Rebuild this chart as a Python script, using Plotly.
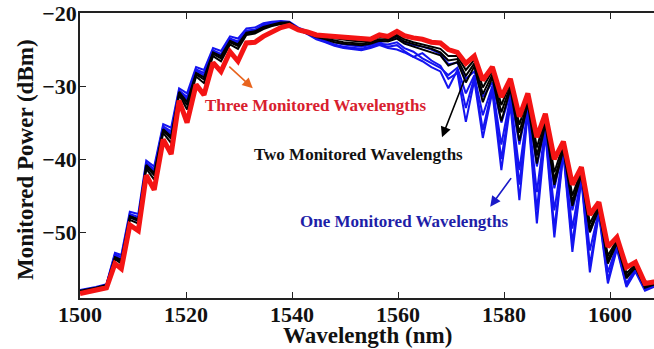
import plotly.graph_objects as go

# Wavelength sampling grid (nm), shared by every spectrum
wavelength = [1500.0, 1503.0, 1505.0, 1506.6, 1507.8, 1509.4, 1511.0, 1512.5, 1514.0, 1515.7,
              1517.2, 1518.7, 1520.2, 1521.9, 1523.4, 1525.1, 1526.6, 1528.3, 1529.8, 1531.4,
              1533.0, 1534.6, 1536.2, 1537.9, 1539.5, 1541.2, 1542.9, 1544.6, 1546.3, 1548.0,
              1549.7, 1551.4, 1553.1, 1554.8, 1556.5, 1558.1, 1559.8, 1561.2, 1562.9, 1564.6,
              1566.3, 1568.0, 1569.5, 1571.2, 1572.8, 1574.4, 1576.0, 1577.8, 1579.5, 1581.2,
              1582.9, 1584.5, 1586.2, 1587.8, 1589.5, 1591.2, 1592.9, 1594.6, 1596.2, 1597.9,
              1599.6, 1601.3, 1603.1, 1604.8, 1606.6, 1608.2, 1610.0]

# One monitored wavelength (blue traces), dBm
one_a = [-57.9, -57.5, -57.1, -52.8, -53.1, -47.2, -47.5, -40.2, -41.0, -35.2,
         -35.7, -30.3, -31.0, -27.4, -27.8, -24.8, -25.2, -23.2, -23.5, -22.1,
         -22.0, -21.4, -21.2, -21.1, -21.2, -22.0, -22.5, -23.2, -23.5, -24.0,
         -24.3, -24.5, -24.6, -24.4, -24.0, -23.8, -23.4, -24.0, -24.4, -24.6,
         -25.0, -25.6, -27.0, -26.8, -29.0, -28.0, -31.5, -29.5, -35.0, -31.0,
         -38.0, -32.5, -41.0, -35.0, -44.0, -38.5, -47.0, -42.0, -50.0, -46.8,
         -54.0, -51.5, -56.0, -54.8, -57.4, -57.2, -57.2]
one_b = [-58.0, -57.6, -57.2, -53.0, -53.4, -47.5, -47.9, -40.5, -41.4, -35.5,
         -36.2, -30.6, -31.5, -27.7, -28.2, -25.1, -25.6, -23.5, -23.9, -22.4,
         -22.3, -21.6, -21.4, -21.2, -21.3, -22.1, -22.7, -23.4, -23.8, -24.3,
         -24.6, -24.8, -24.9, -24.6, -24.2, -24.3, -24.0, -24.8, -25.3, -26.2,
         -26.8, -27.5, -28.5, -27.5, -31.0, -28.5, -34.0, -30.0, -38.0, -31.5,
         -41.5, -33.0, -44.5, -35.5, -47.0, -38.8, -49.5, -42.2, -52.5, -47.0,
         -55.5, -51.8, -57.0, -55.0, -57.6, -57.3, -57.3]
one_c = [-58.0, -57.6, -57.2, -53.2, -53.7, -47.7, -48.2, -40.7, -41.7, -35.7,
         -36.5, -30.8, -31.8, -27.9, -28.5, -25.3, -25.8, -23.6, -24.1, -22.5,
         -22.4, -21.7, -21.5, -21.3, -21.4, -22.2, -22.8, -23.5, -23.9, -24.4,
         -24.7, -24.9, -25.0, -24.7, -24.3, -24.6, -24.4, -25.2, -26.0, -26.6,
         -27.4, -28.0, -30.3, -27.8, -33.0, -28.8, -36.0, -30.3, -40.0, -32.0,
         -43.5, -33.3, -47.0, -36.0, -49.5, -39.0, -51.5, -42.5, -54.5, -47.2,
         -56.5, -52.0, -57.3, -55.2, -57.8, -57.4, -57.4]
one_d = [-58.1, -57.7, -57.3, -53.4, -53.9, -47.9, -48.5, -40.9, -42.0, -35.9,
         -36.8, -31.0, -32.1, -28.1, -28.8, -25.5, -26.0, -23.8, -24.3, -22.6,
         -22.5, -21.8, -21.6, -21.4, -21.5, -22.3, -22.9, -23.6, -24.0, -24.5,
         -24.8, -25.0, -25.1, -24.8, -24.4, -24.8, -25.0, -25.4, -26.0, -25.5,
         -26.5, -27.2, -29.0, -28.2, -34.9, -29.2, -37.1, -30.8, -41.5, -32.5,
         -45.6, -33.6, -48.8, -36.5, -50.7, -39.2, -52.7, -42.8, -55.5, -47.5,
         -57.0, -52.3, -57.5, -55.4, -58.0, -57.5, -57.5]

# Two monitored wavelengths (black traces), dBm
two_a = [-58.2, -57.8, -57.4, -53.7, -54.3, -48.3, -48.8, -41.3, -42.8, -36.4,
         -37.8, -31.2, -33.2, -28.7, -29.6, -25.9, -26.6, -24.3, -24.9, -23.0,
         -22.8, -22.2, -21.8, -21.5, -21.4, -22.2, -22.6, -23.1, -23.3, -23.5,
         -23.7, -23.8, -23.9, -23.8, -23.3, -23.5, -23.0, -23.6, -24.0, -24.3,
         -24.6, -24.9, -25.9, -25.9, -27.8, -26.4, -30.2, -27.9, -32.6, -29.5,
         -35.3, -31.5, -38.4, -34.3, -41.8, -38.0, -45.0, -41.5, -48.8, -46.3,
         -53.2, -51.1, -55.6, -54.4, -57.3, -57.0, -57.0]
two_b = [-58.1, -57.7, -57.3, -53.5, -54.0, -48.0, -48.4, -41.0, -42.2, -36.1,
         -37.2, -31.0, -32.6, -28.4, -29.1, -25.6, -26.2, -24.0, -24.5, -22.8,
         -22.6, -22.0, -21.7, -21.4, -21.3, -22.2, -22.7, -23.2, -23.5, -23.8,
         -24.0, -24.1, -24.2, -24.0, -23.6, -23.7, -23.2, -23.9, -24.3, -24.6,
         -24.9, -25.4, -26.5, -26.3, -28.6, -26.9, -31.1, -28.4, -33.6, -30.0,
         -36.4, -32.0, -39.5, -34.8, -42.8, -38.4, -45.8, -41.8, -49.5, -46.6,
         -53.8, -51.3, -56.0, -54.6, -57.5, -57.1, -57.1]
two_c = [-58.0, -57.6, -57.2, -53.4, -53.8, -47.8, -48.2, -40.8, -41.9, -35.9,
         -36.9, -30.8, -32.2, -28.2, -28.8, -25.4, -25.9, -23.8, -24.3, -22.7,
         -22.5, -21.9, -21.6, -21.3, -21.3, -22.3, -22.8, -23.3, -23.6, -24.0,
         -24.2, -24.3, -24.4, -24.2, -23.8, -23.9, -23.5, -24.2, -24.6, -25.0,
         -25.3, -25.8, -27.2, -26.7, -29.5, -27.3, -32.2, -28.8, -34.8, -30.4,
         -37.5, -32.4, -40.6, -35.2, -43.5, -38.7, -46.4, -42.1, -50.0, -46.8,
         -54.3, -51.5, -56.3, -54.8, -57.6, -57.2, -57.2]

# Three monitored wavelengths (red trace), dBm
three = [-58.4, -58.0, -57.6, -54.3, -55.0, -49.0, -49.8, -42.2, -44.2, -37.3,
         -39.3, -32.0, -35.0, -29.8, -31.2, -26.8, -28.0, -25.3, -26.6, -24.1,
         -24.0, -23.2, -22.6, -22.0, -21.7, -22.3, -22.6, -23.0, -23.1, -23.2,
         -23.3, -23.4, -23.6, -23.6, -23.0, -23.2, -22.5, -23.1, -23.4, -23.6,
         -24.0, -24.1, -25.0, -25.4, -26.9, -25.9, -29.2, -27.4, -31.5, -29.0,
         -34.2, -31.0, -37.0, -33.8, -40.0, -37.6, -43.5, -41.1, -47.6, -45.9,
         -52.0, -50.7, -54.8, -54.1, -57.0, -56.8, -56.8]

x_ticks = [1500, 1520, 1540, 1560, 1580, 1600]
y_ticks = [-50, -40, -30, -20]

SERIF = "Liberation Serif"

fig = go.Figure()

for ys in (one_a, one_b, one_c, one_d):
    fig.add_trace(go.Scatter(x=wavelength, y=ys, mode="lines",
                             line=dict(color="#1414f0", width=2)))
for ys in (two_a, two_b, two_c):
    fig.add_trace(go.Scatter(x=wavelength, y=ys, mode="lines",
                             line=dict(color="#000000", width=2)))
fig.add_trace(go.Scatter(x=wavelength, y=three, mode="lines",
                         line=dict(color="#f41414", width=5)))


def bold(s):
    return "<b>" + s + "</b>"


label_font = dict(family=SERIF, size=17)

annotations = [
    # arrows pointing at each family of curves
    dict(x=1532.6, y=-30.3, ax=-25, ay=-23, showarrow=True, arrowhead=2,
         arrowsize=1.3, arrowwidth=1.6, arrowcolor="#e8641e", text=""),
    dict(x=1568.3, y=-37.0, ax=23, ay=-59, showarrow=True, arrowhead=2,
         arrowsize=1.3, arrowwidth=1.6, arrowcolor="#000000", text=""),
    dict(x=1577.4, y=-46.5, ax=22, ay=-30, showarrow=True, arrowhead=2,
         arrowsize=1.3, arrowwidth=1.6, arrowcolor="#1a1ac8", text=""),
    # curve labels
    dict(x=1544.4, y=-32.6, text=bold("Three Monitored Wavelengths"), showarrow=False,
         font=dict(color="#d8202e", **label_font), xanchor="center", yanchor="middle"),
    dict(x=1552.6, y=-39.4, text=bold("Two Monitored Wavelengths"), showarrow=False,
         font=dict(color="#111111", **label_font), xanchor="center", yanchor="middle"),
    dict(x=1561.2, y=-48.5, text=bold("One Monitored Wavelengths"), showarrow=False,
         font=dict(color="#1e1ea8", **label_font), xanchor="center", yanchor="middle"),
    # axis titles
    dict(xref="paper", yref="paper", x=0.5, y=0, yshift=-37, text=bold("Wavelength (nm)"),
         showarrow=False, xanchor="center", yanchor="middle",
         font=dict(family=SERIF, size=23, color="#111111")),
    dict(xref="paper", yref="paper", x=0, y=0.484, xshift=-55, text=bold("Monitored Power (dBm)"),
         showarrow=False, textangle=-90, xanchor="center", yanchor="middle",
         font=dict(family=SERIF, size=23, color="#111111")),
]

fig.update_layout(
    width=654, height=349,
    margin=dict(l=80, r=0, t=13, b=51),
    paper_bgcolor="white", plot_bgcolor="white",
    showlegend=False,
    annotations=annotations,
    xaxis=dict(range=[1500, 1608.3], tickvals=x_ticks,
               ticktext=[bold(str(v)) for v in x_ticks],
               ticks="inside", ticklen=6, tickcolor="#222222", tickwidth=1.2,
               ticklabelstandoff=-4,
               showline=True, linecolor="#222222", linewidth=1.5, mirror="ticks",
               showgrid=False, zeroline=False,
               tickfont=dict(family=SERIF, size=22, color="#111111")),
    yaxis=dict(range=[-59, -20], tickvals=y_ticks,
               ticktext=[bold("\u2212" + str(-v)) for v in y_ticks],
               ticks="inside", ticklen=6, tickcolor="#222222", tickwidth=1.2,
               ticklabelstandoff=-3,
               showline=True, linecolor="#222222", linewidth=1.5,
               showgrid=False, zeroline=False,
               tickfont=dict(family=SERIF, size=22, color="#111111")),
)

fig.write_html("out.html")
